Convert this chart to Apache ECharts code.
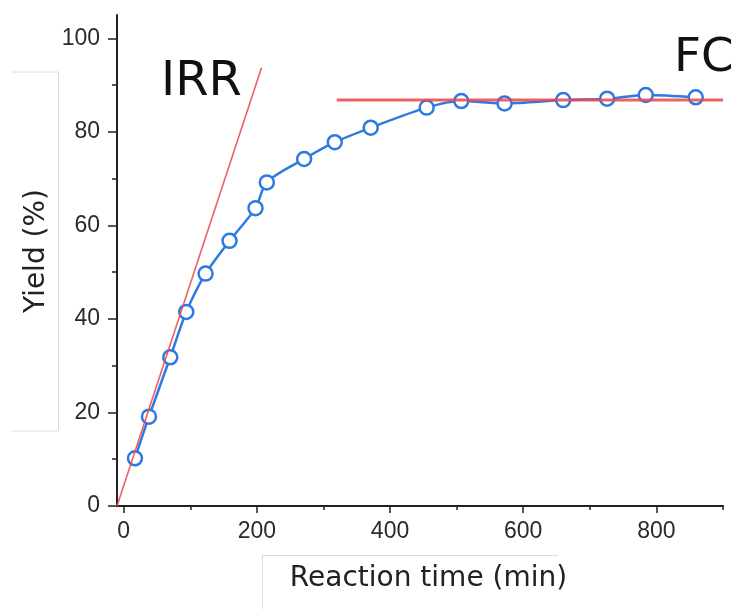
<!DOCTYPE html>
<html>
<head>
<meta charset="utf-8">
<script src="https://cdn.jsdelivr.net/npm/echarts@6/dist/echarts.min.js"></script>
<style>
html,body{margin:0;padding:0;background:#fff;}
#chart{width:731px;height:609px;}
</style>
</head>
<body>
<div id="chart"></div>
<script>
// Data
const timeMin  = [17, 38, 70, 94, 123, 159, 198, 215, 271, 317, 371, 455, 507, 572, 660, 726, 784, 859];
const yieldPct = [10.2, 19.1, 31.8, 41.5, 49.7, 56.7, 63.7, 69.2, 74.2, 77.8, 80.9, 85.2, 86.6, 86.1, 86.8, 87.1, 87.9, 87.4];
// Initial reaction rate tangent (IRR)
const irrX = [-10, 207];
const irrY = [0, 93.7];
// Final conversion plateau (FC)
const fcX = [320, 900];
const fcY = [86.8, 86.8];
// Tick labels
const xMajorTicks = [0, 200, 400, 600, 800];
const xMinorTicks = [100, 300, 500, 700, 900];
const yMajorTicks = [0, 20, 40, 60, 80, 100];
const yMinorTicks = [10, 30, 50, 70, 90];

const zip = (a, b) => a.map((v, i) => [v, b[i]]);

const chart = echarts.init(document.getElementById('chart'), null, {renderer: 'canvas'});
const axisCol = '#222';
const labelStyle = {fontFamily: 'Liberation Sans', fontSize: 23, color: '#2a2a2a'};

chart.setOption({
  animation: false,
  backgroundColor: '#fff',
  grid: {left: 117, top: 15, right: 8, bottom: 103},
  xAxis: [
    {
      type: 'value', min: -10, max: 900, position: 'bottom',
      name: 'Reaction time (min)', nameLocation: 'middle', nameGap: 59,
      nameTextStyle: {fontFamily: 'DejaVu Sans', fontSize: 28, color: '#222', padding: [0, 0, 0, 17]},
      axisLine: {show: true, onZero: false, lineStyle: {color: axisCol, width: 2}},
      axisTick: {show: true, length: 7, customValues: xMajorTicks, lineStyle: {color: axisCol, width: 1.5}},
      axisLabel: {customValues: xMajorTicks, margin: 14, ...labelStyle},
      splitLine: {show: false}
    },
    {
      type: 'value', min: -10, max: 900, position: 'bottom',
      axisLine: {show: false, onZero: false},
      axisTick: {show: true, length: 4, customValues: xMinorTicks, lineStyle: {color: axisCol, width: 1.5}},
      axisLabel: {show: false},
      splitLine: {show: false}
    }
  ],
  yAxis: [
    {
      type: 'value', min: 0, max: 105, position: 'left',
      name: 'Yield (%)', nameLocation: 'middle', nameGap: 55,
      nameTextStyle: {fontFamily: 'DejaVu Sans', fontSize: 28, color: '#222', padding: [0, 0, 0, 19]},
      axisLine: {show: true, onZero: false, lineStyle: {color: axisCol, width: 2}},
      axisTick: {show: true, length: 9, customValues: yMajorTicks, lineStyle: {color: axisCol, width: 1.5}},
      axisLabel: {customValues: yMajorTicks, margin: 17, ...labelStyle},
      splitLine: {show: false}
    },
    {
      type: 'value', min: 0, max: 105, position: 'left',
      axisLine: {show: false, onZero: false},
      axisTick: {show: true, length: 5, customValues: yMinorTicks, lineStyle: {color: axisCol, width: 1.5}},
      axisLabel: {show: false},
      splitLine: {show: false}
    }
  ],
  series: [
    {
      type: 'line', name: 'Yield', xAxisIndex: 0, yAxisIndex: 0,
      data: zip(timeMin, yieldPct), smooth: 0.3,
      symbol: 'circle', symbolSize: 14,
      lineStyle: {color: '#2f7ae0', width: 2.5},
      itemStyle: {color: '#ffffff', borderColor: '#2f7ae0', borderWidth: 2.5},
      z: 2
    },
    {
      type: 'line', name: 'IRR', xAxisIndex: 0, yAxisIndex: 0,
      data: zip(irrX, irrY), symbol: 'none',
      lineStyle: {color: '#ee4b55', width: 1.6, opacity: 0.9},
      z: 3
    },
    {
      type: 'line', name: 'FC', xAxisIndex: 0, yAxisIndex: 0,
      data: zip(fcX, fcY), symbol: 'none',
      lineStyle: {color: '#e8474c', width: 3, opacity: 0.85},
      z: 3
    }
  ],
  graphic: [
    {type: 'text', left: 161, top: 59, style: {text: 'IRR', fontFamily: 'DejaVu Sans', fontSize: 48, fill: '#111'}},
    {type: 'text', left: 674, top: 35, style: {text: 'FC', fontFamily: 'DejaVu Sans', fontSize: 47, fill: '#111'}},
    {type: 'polyline', shape: {points: [[12, 72], [58.5, 72], [58.5, 431], [12, 431]]}, style: {stroke: '#dcdcdc', lineWidth: 1, fill: null}, z: -1},
    {type: 'polyline', shape: {points: [[262.5, 609], [262.5, 555.5], [558, 555.5]]}, style: {stroke: '#dcdcdc', lineWidth: 1, fill: null}, z: -1}
  ]
});
</script>
</body>
</html>
